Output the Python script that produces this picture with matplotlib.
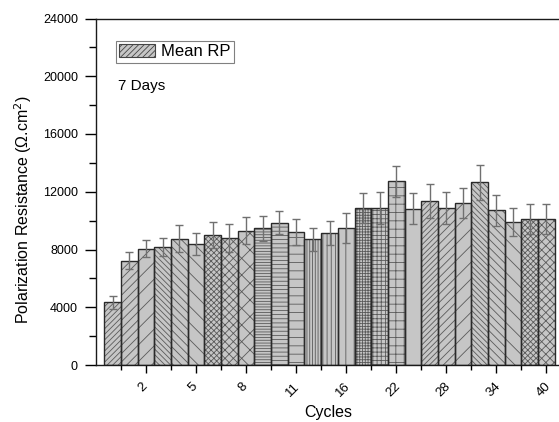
import matplotlib
matplotlib.use("Agg")
import matplotlib.pyplot as plt
import matplotlib.transforms as mtransforms
from matplotlib.patches import Patch
from matplotlib.ticker import FixedLocator, MultipleLocator

plt.rcParams['font.family'] = ['Liberation Sans', 'DejaVu Sans']
plt.rcParams['hatch.linewidth'] = 0.6

# Data
cycles = list(range(0, 12)) + list(range(12, 41, 2))
mean_rp = [4350, 7230, 8060, 8150, 8760, 8380, 9010, 8800, 9310, 9470,
           9860, 9240, 8710, 9130, 9520, 10880, 10880, 12730, 10830, 11340,
           10880, 11230, 12660, 10720, 9910, 10100, 10100]
err_rp = [460, 600, 600, 620, 920, 740, 925, 950, 925, 860,
          785, 900, 810, 810, 1040, 1060, 1130, 1060, 1060, 1180,
          1130, 1060, 1225, 1060, 970, 1020, 1020]
shown_labels = [2, 5, 8, 11, 16, 22, 28, 34, 40]
d, m, s = 6, 4, 2
hatches = ['/' * d, '/' * m, '/' * s, '\\' * d, '\\' * m, '\\' * s,
           'x' * d, 'x' * m, 'x' * s, '-' * d, '-' * m, '-' * s,
           '|' * d, '|' * m, '|' * s, '+' * d, '+' * m, '+' * s, '',
           '/' * d, '/' * m, '/' * s, '\\' * d, '\\' * m, '\\' * s,
           'x' * d, 'x' * m]

W, H = 559, 422
fig = plt.figure(figsize=(W / 100, H / 100), dpi=100)
ax = fig.add_axes([96 / W, (H - 365) / H, (W - 96) / W, (365 - 18.5) / H])

xpos = list(range(len(mean_rp)))
face = '#c6c6c6'
hatch_col = '#5a5a5a'
bars = ax.bar(xpos, mean_rp, width=1.0, color=face, edgecolor=hatch_col,
              linewidth=0, zorder=2)
for b, h in zip(bars, hatches):
    b.set_hatch(h)
ax.bar(xpos, mean_rp, width=1.0, facecolor='none', edgecolor='#2a2a2a',
       linewidth=1.0, zorder=2.5)
ax.errorbar(xpos, mean_rp, yerr=err_rp, fmt='none', ecolor='#707070',
            elinewidth=1.0, capsize=2.6, capthick=1.0, zorder=3)

ax.set_xlim(-1, 26.76)
ax.set_ylim(0, 24000)

ax.yaxis.set_major_locator(MultipleLocator(4000))
ax.yaxis.set_minor_locator(MultipleLocator(2000))
major_x = [cycles.index(c) for c in shown_labels]
ax.xaxis.set_major_locator(FixedLocator(major_x))
ax.set_xticklabels([str(c) for c in shown_labels], rotation=45, ha='center')
minor_x = [mx - 1.5 for mx in major_x]
ax.xaxis.set_minor_locator(FixedLocator(minor_x))

ax.tick_params(axis='y', which='major', direction='out', length=8, width=1,
               labelsize=9, pad=5)
ax.tick_params(axis='y', which='minor', direction='out', length=5, width=1)
ax.tick_params(axis='x', which='major', direction='out', length=6, width=1,
               labelsize=9.5, pad=5)
ax.tick_params(axis='x', which='minor', direction='out', length=3.5, width=1)

offset = mtransforms.ScaledTranslation(-3 / 100, 0, fig.dpi_scale_trans)
for lab in ax.get_xticklabels():
    lab.set_transform(lab.get_transform() + offset)

ax.spines['right'].set_visible(False)
for sp in ['left', 'bottom', 'top']:
    ax.spines[sp].set_linewidth(1.0)
    ax.spines[sp].set_color('#1a1a1a')

fig.text(23.5 / W, 1 - 210 / H, 'Polarization Resistance (\u03a9.cm$^{2}$)',
         rotation=90, ha='center', va='center', fontsize=11.5)
fig.text(328.5 / W, 1 - 417 / H, 'Cycles', ha='center', va='baseline',
         fontsize=11.5)
fig.text(117.5 / W, 1 - 90 / H, '7 Days', ha='left', va='baseline',
         fontsize=11)

handle = Patch(facecolor=face, edgecolor='#444444', hatch='/' * d,
               linewidth=0.8)
leg = ax.legend([handle], ['Mean RP'], loc='upper left',
                bbox_to_anchor=(116 / W, 1 - 41 / H),
                bbox_transform=fig.transFigure, borderaxespad=0,
                fontsize=12, fancybox=False, framealpha=1,
                edgecolor='#808080', handlelength=2.15, handleheight=0.8,
                handletextpad=0.35, borderpad=0.2)
leg.get_frame().set_linewidth(0.8)

fig.savefig('out.png', dpi=100)
